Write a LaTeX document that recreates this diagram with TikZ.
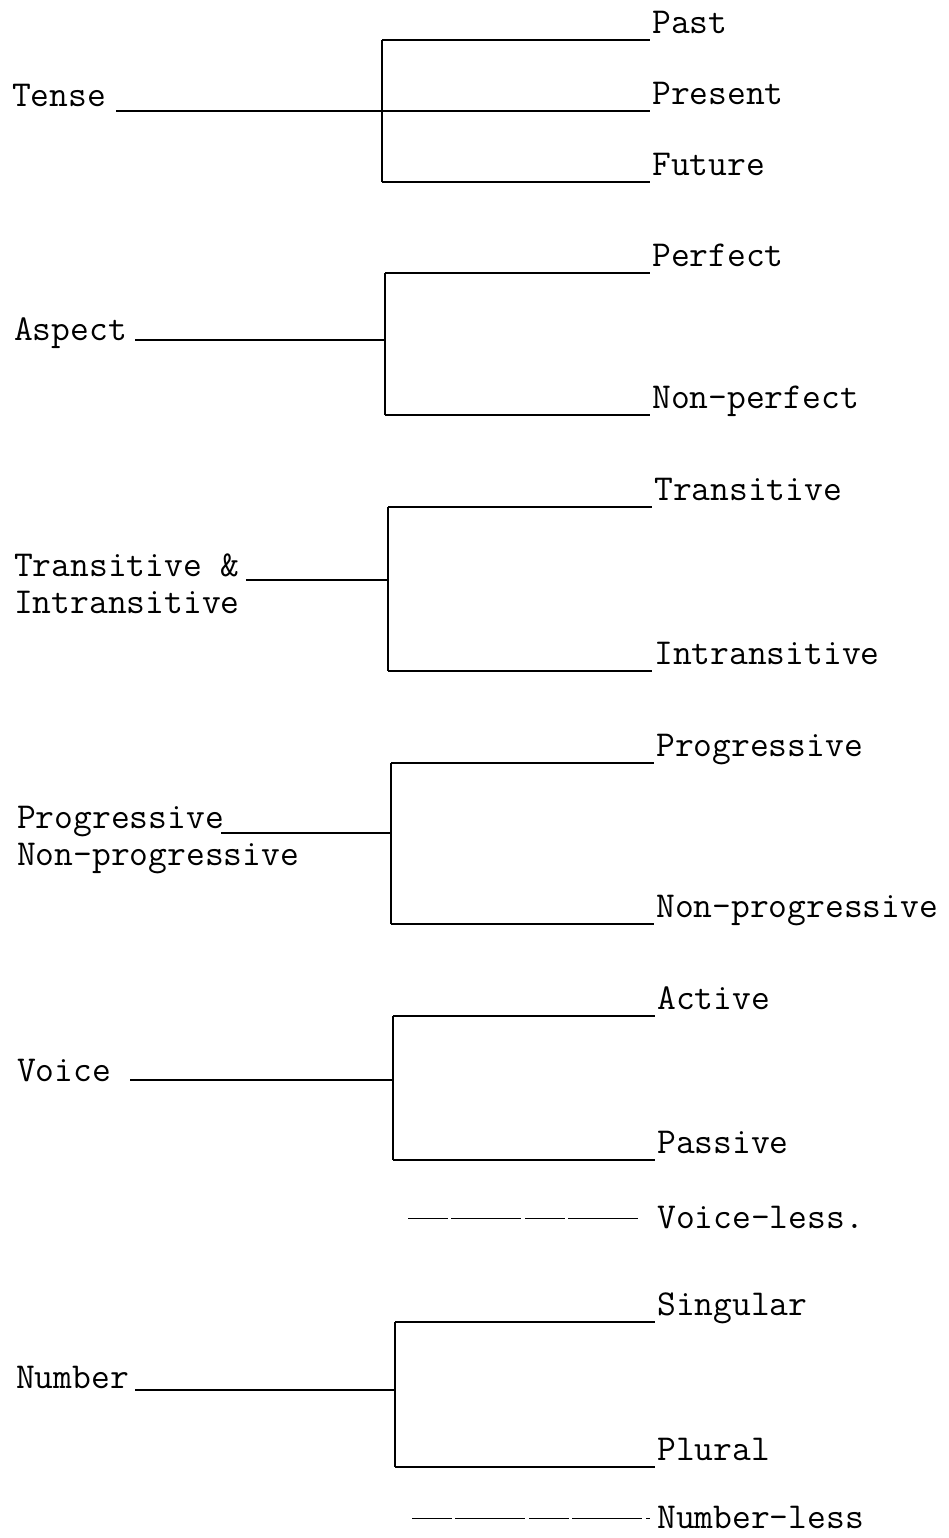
\documentclass[tikz,border=0pt]{standalone}
\usepackage{fontspec}
\usetikzlibrary{positioning}

\begin{document}
\begin{tikzpicture}[x=1pt, y=-1pt,
    cat/.style={font=\ttfamily\fontsize{36.5}{40}\selectfont, anchor=base west, inner sep=0pt},
    val/.style={font=\ttfamily\fontsize{36.5}{40}\selectfont, anchor=south west, inner xsep=2pt, inner ysep=6pt, text depth=0pt},
    less/.style={font=\ttfamily\fontsize{36.5}{40}\selectfont, anchor=base west, inner ysep=0pt},
    tree/.style={line width=1.6pt},
    none/.style={line width=0.9pt, dash pattern=on 40pt off 3pt on 70pt off 4pt}]
    \useasboundingbox (0,0) rectangle (949,1538);

    % Categories
    \node[cat] (tense) at (12,107) {Tense};
    \node[cat] (aspect) at (14,340) {Aspect};
    \node[cat] (trans) at (14,576) {Transitive \&};
    \node[cat] (transB) at (14,613) {Intransitive};
    \node[cat] (prog) at (17,828) {Progressive};
    \node[cat] (progB) at (17,865) {Non-progressive};
    \node[cat] (voice) at (17,1081) {Voice};
    \node[cat] (number) at (16,1388) {Number};

    % Forks
    \coordinate (tenseF) at (382,111);
    \coordinate (aspectF) at (385,340);
    \coordinate (transF) at (388,580);
    \coordinate (progF) at (391,833);
    \coordinate (voiceF) at (393,1080);
    \coordinate (numberF) at (395,1390);
    \coordinate (voiceN) at (408,1218);
    \coordinate (numberN) at (412,1518);

    % Values
    \node[val] (past) at (650,40) {Past};
    \node[val] (present) at (650,111) {Present};
    \node[val] (future) at (650,182) {Future};
    \node[val] (perfect) at (650,273) {Perfect};
    \node[val] (nonperfect) at (650,415) {Non-perfect};
    \node[val] (transitive) at (652,507) {Transitive};
    \node[val] (intransitive) at (652,671) {Intransitive};
    \node[val] (progressive) at (654,763) {Progressive};
    \node[val] (nonprogressive) at (654,924) {Non-progressive};
    \node[val] (active) at (655,1016) {Active};
    \node[val] (passive) at (655,1160) {Passive};
    \node[less, inner xsep=17pt] (voiceless) at (640,1228) {Voice-less.};
    \node[val] (singular) at (655,1322) {Singular};
    \node[val] (plural) at (655,1467) {Plural};
    \node[less, inner xsep=7pt] (numberless) at (650,1528) {Number-less};

    % Tense
    \draw[tree] ([xshift=10]tense.east |- tenseF) -- (tenseF);
    \draw[tree] (tenseF |- past.south) -- (tenseF |- future.south);
    \draw[tree] (tenseF |- past.south) -- (past.south west);
    \draw[tree] (tenseF) -- (present.south west);
    \draw[tree] (tenseF |- future.south) -- (future.south west);

    % Aspect
    \draw[tree] ([xshift=8]aspect.east |- aspectF) -- (aspectF);
    \draw[tree] (aspectF |- perfect.south) -- (aspectF |- nonperfect.south);
    \draw[tree] (aspectF |- perfect.south) -- (perfect.south west);
    \draw[tree] (aspectF |- nonperfect.south) -- (nonperfect.south west);

    % Transitive
    \draw[tree] ([xshift=6]trans.east |- transF) -- (transF);
    \draw[tree] (transF |- transitive.south) -- (transF |- intransitive.south);
    \draw[tree] (transF |- transitive.south) -- (transitive.south west);
    \draw[tree] (transF |- intransitive.south) -- (intransitive.south west);

    % Progressive
    \draw[tree] ([xshift=-3]prog.east |- progF) -- (progF);
    \draw[tree] (progF |- progressive.south) -- (progF |- nonprogressive.south);
    \draw[tree] (progF |- progressive.south) -- (progressive.south west);
    \draw[tree] (progF |- nonprogressive.south) -- (nonprogressive.south west);

    % Voice
    \draw[tree] ([xshift=19]voice.east |- voiceF) -- (voiceF);
    \draw[tree] (voiceF |- active.south) -- (voiceF |- passive.south);
    \draw[tree] (voiceF |- active.south) -- (active.south west);
    \draw[tree] (voiceF |- passive.south) -- (passive.south west);
    \draw[none] (voiceN) -- (voiceN -| voiceless.west);

    % Number
    \draw[tree] ([xshift=6]number.east |- numberF) -- (numberF);
    \draw[tree] (numberF |- singular.south) -- (numberF |- plural.south);
    \draw[tree] (numberF |- singular.south) -- (singular.south west);
    \draw[tree] (numberF |- plural.south) -- (plural.south west);
    \draw[none] (numberN) -- (numberN -| numberless.west);
\end{tikzpicture}
\end{document}
